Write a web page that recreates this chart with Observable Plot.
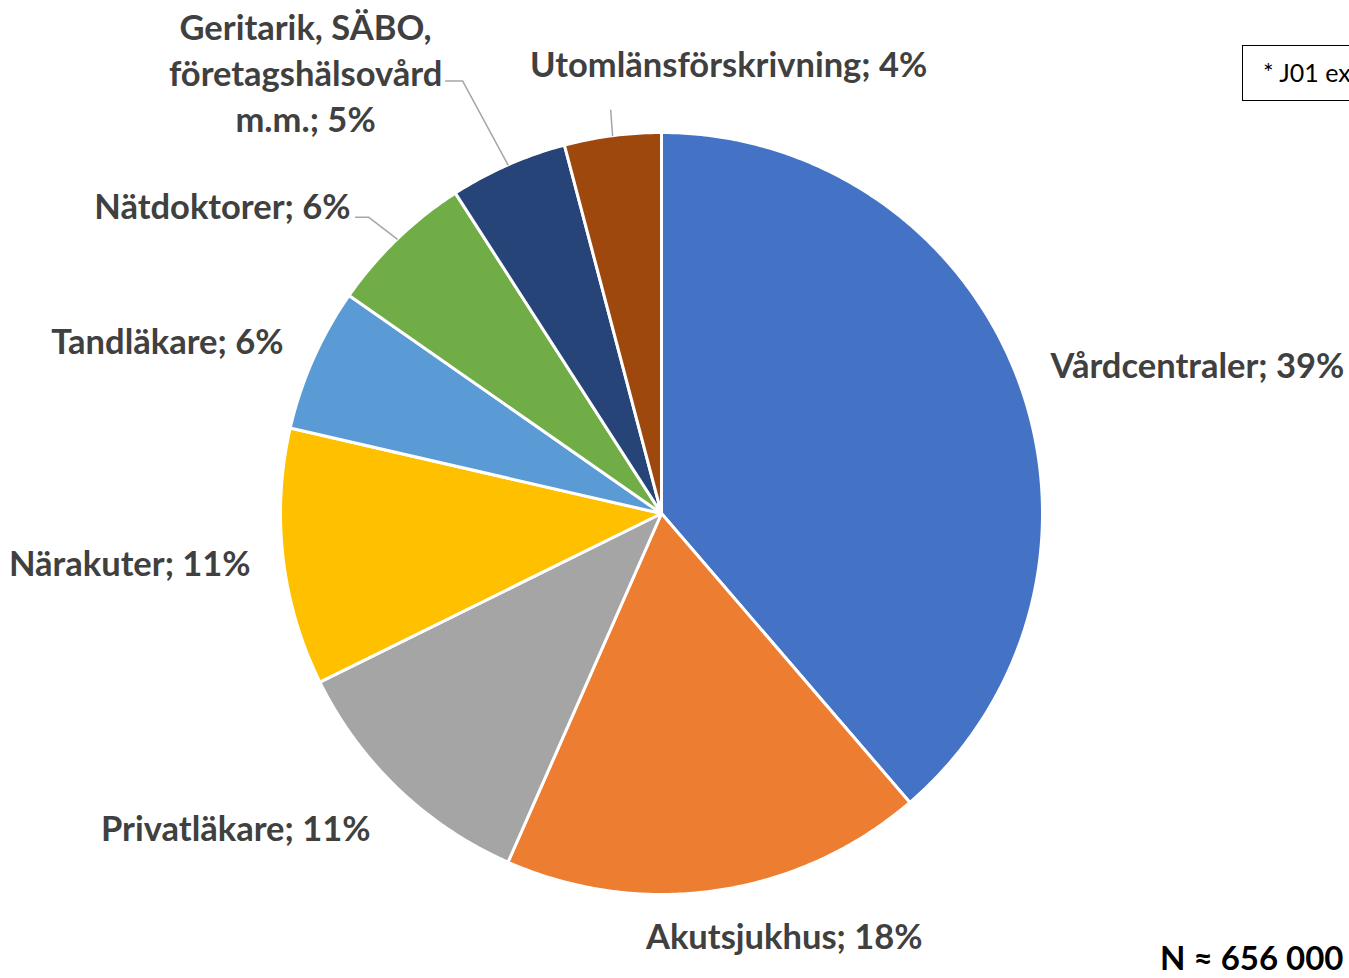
<!DOCTYPE html>
<html>
<head>
<meta charset="utf-8">
<script src="https://cdn.jsdelivr.net/npm/d3@7"></script>
<script src="https://cdn.jsdelivr.net/npm/@observablehq/plot@0.6"></script>
<style>
  html, body { margin: 0; padding: 0; background: #fff; overflow: hidden; }
  #wrap { position: relative; width: 1349px; height: 978px; overflow: hidden; }
  #note { position: absolute; left: 1242px; top: 45px; width: 220px; height: 56px;
          border: 1.5px solid #000; box-sizing: border-box; background: #fff;
          font-family: Lato, "Open Sans", sans-serif; font-size: 25px; color: #000;
          line-height: 53px; padding-left: 20px; white-space: nowrap; }
</style>
</head>
<body>
<div id="wrap"><div id="note">* J01 ex</div></div>
<script>
// ---- data ----
const categories = ["Vårdcentraler", "Akutsjukhus", "Privatläkare", "Närakuter",
  "Tandläkare", "Nätdoktorer", "Geritarik, SÄBO,\nföretagshälsovård\nm.m.", "Utomlänsförskrivning"];
const shares = [38.7, 17.9, 11.1, 10.9, 6.1, 6.2, 5.0, 4.1];
const pctLabels = ["39%", "18%", "11%", "11%", "6%", "6%", "5%", "4%"];
const colors = ["#4472C4", "#ED7D31", "#A5A5A5", "#FFC000", "#5B9BD5", "#70AD47", "#264478", "#9E480E"];
const totalText = "N ≈ 656 000";

// ---- layout (pixels) ----
const W = 1349, H = 978, CX = 661, CY = 513, R = 381;
const labelR = 1.12;
const labelNudge = [[-11, 0], [60, 1], [4, 7], [13, 0], [12, 1], [-15, 0], [-184, -50], [122, -26]];
const labelAnchor = ["start", "middle", "end", "end", "end", "end", "middle", "middle"];
// leader line offsets (px) relative to label anchor; first point is the slice edge
const leaderOffsets = {5: [[18, 11], [5, 11]], 6: [[157, 8], [140, 8]], 7: [[-118, 46]]};

const total = d3.sum(shares);
const slices = [];
let acc = 0;
shares.forEach((v, i) => {
  const a0 = acc / total * 2 * Math.PI;
  acc += v;
  const a1 = acc / total * 2 * Math.PI;
  slices.push({name: categories[i], i, a0, a1, mid: (a0 + a1) / 2});
});

const polyPts = [];
for (const s of slices) {
  polyPts.push({name: s.name, x: 0, y: 0});
  const n = Math.max(4, Math.ceil((s.a1 - s.a0) / (Math.PI / 360)));
  for (let k = 0; k <= n; k++) {
    const a = s.a0 + (s.a1 - s.a0) * k / n;
    polyPts.push({name: s.name, x: Math.sin(a), y: Math.cos(a)});
  }
}

const labels = slices.map(s => {
  const [dx, dy] = labelNudge[s.i];
  return {
    text: categories[s.i] + "; " + pctLabels[s.i],
    x: labelR * Math.sin(s.mid) + dx / R,
    y: labelR * Math.cos(s.mid) - dy / R,
    anchor: labelAnchor[s.i]
  };
});

const leaders = [];
for (const k of Object.keys(leaderOffsets)) {
  const s = slices[+k], L = labels[+k];
  leaders.push({id: k, x: Math.sin(s.mid), y: Math.cos(s.mid)});
  for (const [ox, oy] of leaderOffsets[k]) leaders.push({id: k, x: L.x + ox / R, y: L.y - oy / R});
}

const font = "Lato, 'Open Sans', sans-serif";
const textMarks = ["start", "middle", "end"].map(anc =>
  Plot.text(labels.filter(d => d.anchor === anc), {
    x: "x", y: "y", text: "text", textAnchor: anc, lineAnchor: "middle", dy: -2,
    fontSize: 34.5, fontWeight: "bold", fill: "#404040", lineHeight: 1.33, fontFamily: font
  })
);

const chart = Plot.plot({
  width: W, height: H, margin: 0,
  x: {domain: [-CX / R, (W - CX) / R], range: [0, W], axis: null},
  y: {domain: [-(H - CY) / R, CY / R], range: [H, 0], axis: null},
  color: {domain: categories, range: colors},
  style: {background: "transparent", fontFamily: font},
  marks: [
    Plot.line(polyPts, {x: "x", y: "y", z: "name", fill: "name", stroke: "white",
      strokeWidth: 3, strokeLinejoin: "round", curve: "linear-closed"}),
    Plot.line(leaders, {x: "x", y: "y", z: "id", stroke: "#A6A6A6", strokeWidth: 1.5}),
    ...textMarks,
    Plot.text([totalText], {frameAnchor: "bottom-right", dx: -6, dy: -19, fontSize: 33,
      fontWeight: "bold", fill: "#000", fontFamily: font, lineAnchor: "middle"})
  ]
});
chart.style.position = "absolute";
chart.style.left = "0";
chart.style.top = "0";
document.getElementById("wrap").prepend(chart);
</script>
</body>
</html>
